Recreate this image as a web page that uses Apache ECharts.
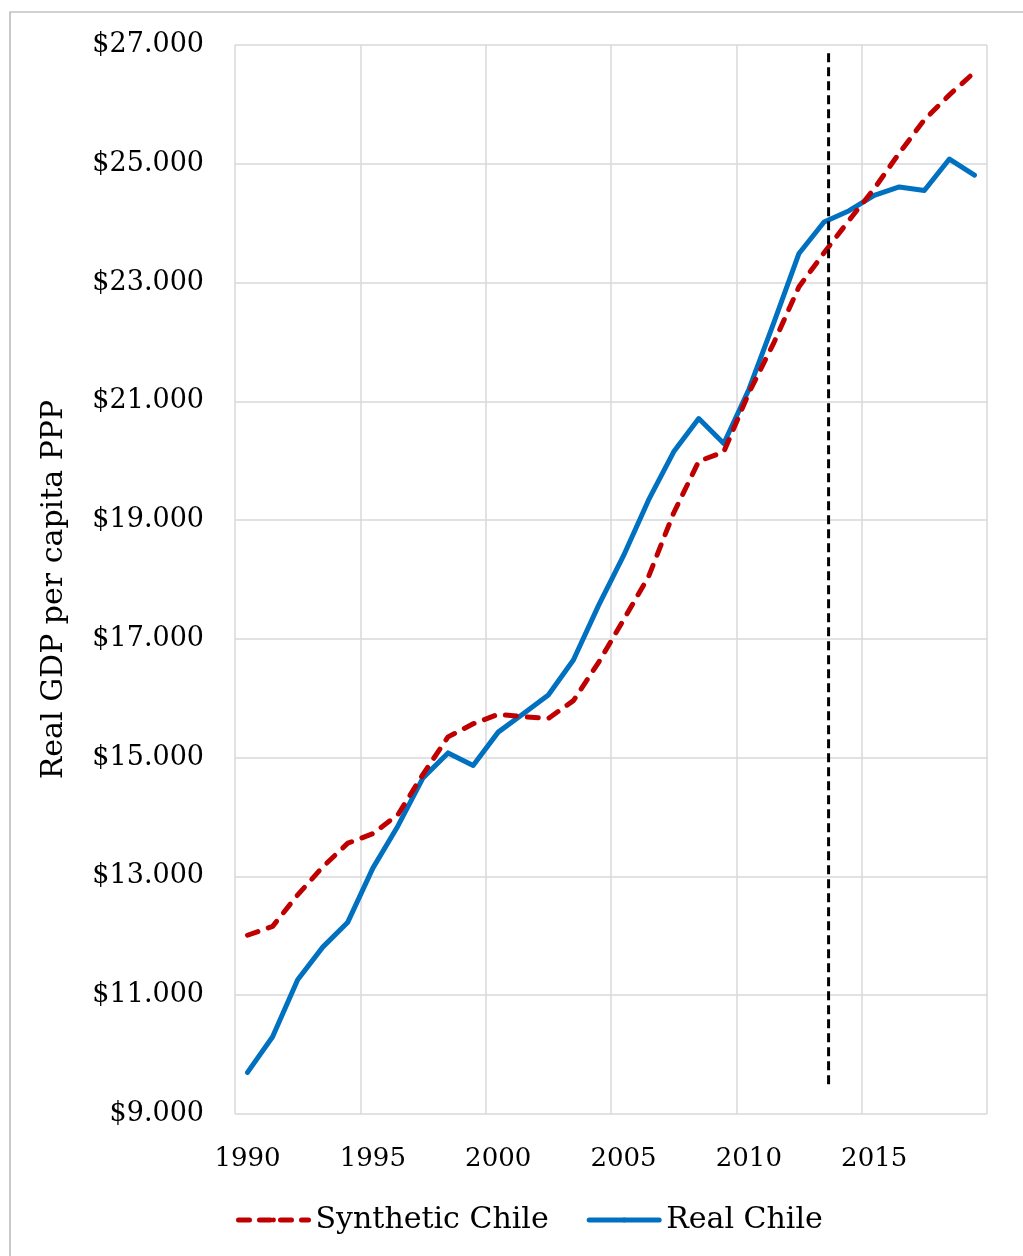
<!DOCTYPE html>
<html>
<head>
<meta charset="utf-8">
<script src="https://cdn.jsdelivr.net/npm/echarts@6/dist/echarts.min.js"></script>
<style>
html,body{margin:0;padding:0;background:#fff;}
#chart{width:1023px;height:1256px;}
</style>
</head>
<body>
<div id="chart"></div>
<script>
const years = [1990,1991,1992,1993,1994,1995,1996,1997,1998,1999,2000,2001,2002,2003,2004,2005,2006,2007,2008,2009,2010,2011,2012,2013,2014,2015,2016,2017,2018,2019];
const syntheticChile = [12010,12160,12690,13160,13560,13720,14040,14720,15350,15570,15730,15690,15660,15960,16600,17320,18050,19120,19990,20150,21140,21990,22930,23500,24050,24580,25180,25740,26160,26540];
const realChile = [9700,10300,11260,11810,12230,13140,13850,14660,15080,14870,15430,15740,16055,16645,17560,18400,19340,20150,20710,20290,21200,22330,23490,24020,24210,24470,24610,24550,25080,24810];
const yTicks = {min: 9000, max: 27000, step: 2000};
const interventionYear = 2013.18;
const interventionRange = [9500, 26920];

const FONT = 'DejaVu Serif';
const chart = echarts.init(document.getElementById('chart'), null, {renderer: 'canvas'});
const firstBoundary = years[0] - 0.5;
const RED = '#c00000', BLUE = '#0070c0';

chart.setOption({
  backgroundColor: '#ffffff',
  animation: false,
  graphic: [{
    type: 'rect', shape: {x: 10, y: 12, width: 1100, height: 1300},
    style: {fill: 'none', stroke: '#a6a6a6', lineWidth: 1.2}, z: -10
  }],
  grid: {left: 235, right: 36, top: 45, bottom: 142},
  legend: {
    bottom: 16, left: 231, itemGap: 38, itemWidth: 70, itemHeight: 6,
    textStyle: {fontFamily: FONT, fontSize: 30, color: '#000', padding: [0,0,0,2]},
    data: [
      {name: 'Synthetic Chile', itemStyle: {color: RED}, lineStyle: {color: RED, width: 5, type: [11, 10], cap: 'round'}},
      {name: 'Real Chile', itemStyle: {color: BLUE}, lineStyle: {color: BLUE, width: 5, type: 'solid', cap: 'round'}}
    ]
  },
  xAxis: [{
    type: 'category', data: years.map(String), boundaryGap: true,
    axisLine: {show: false}, axisTick: {show: false},
    axisLabel: {interval: 4, fontFamily: FONT, fontSize: 26, color: '#000', margin: 32},
    splitLine: {show: false}
  }, {
    type: 'value', min: 0, max: years.length, interval: 5, show: true,
    axisLine: {show: false}, axisTick: {show: false}, axisLabel: {show: false},
    splitLine: {show: true, lineStyle: {color: '#d9d9d9', width: 1.5}}
  }],
  yAxis: {
    type: 'value', min: yTicks.min, max: yTicks.max, interval: yTicks.step,
    name: 'Real GDP per capita PPP', nameLocation: 'middle', nameGap: 166,
    nameTextStyle: {fontFamily: FONT, fontSize: 30, color: '#000', padding: [0, 20, 0, 0]},
    axisLine: {show: false}, axisTick: {show: false},
    axisLabel: {fontFamily: FONT, fontSize: 27, color: '#000', margin: 31,
      formatter: v => '$' + Math.round(v/1000) + '.000'},
    splitLine: {show: true, lineStyle: {color: '#d9d9d9', width: 1.5}}
  },
  series: [{
    name: 'Synthetic Chile', type: 'line', xAxisIndex: 0, data: syntheticChile,
    showSymbol: false, symbol: 'none', z: 3,
    lineStyle: {color: RED, width: 5, type: [11, 11], cap: 'round', join: 'round'},
    itemStyle: {color: RED}
  }, {
    name: 'Real Chile', type: 'line', xAxisIndex: 0, data: realChile,
    showSymbol: false, symbol: 'none', z: 2,
    lineStyle: {color: BLUE, width: 5, cap: 'round', join: 'round'},
    itemStyle: {color: BLUE}
  }, {
    name: 'intervention', type: 'line', xAxisIndex: 1,
    data: interventionRange.map(v => [interventionYear - firstBoundary, v]),
    showSymbol: false, symbol: 'none', z: 4, silent: true,
    lineStyle: {color: '#000', width: 3, type: [9, 5]}
  }]
});
</script>
</body>
</html>
